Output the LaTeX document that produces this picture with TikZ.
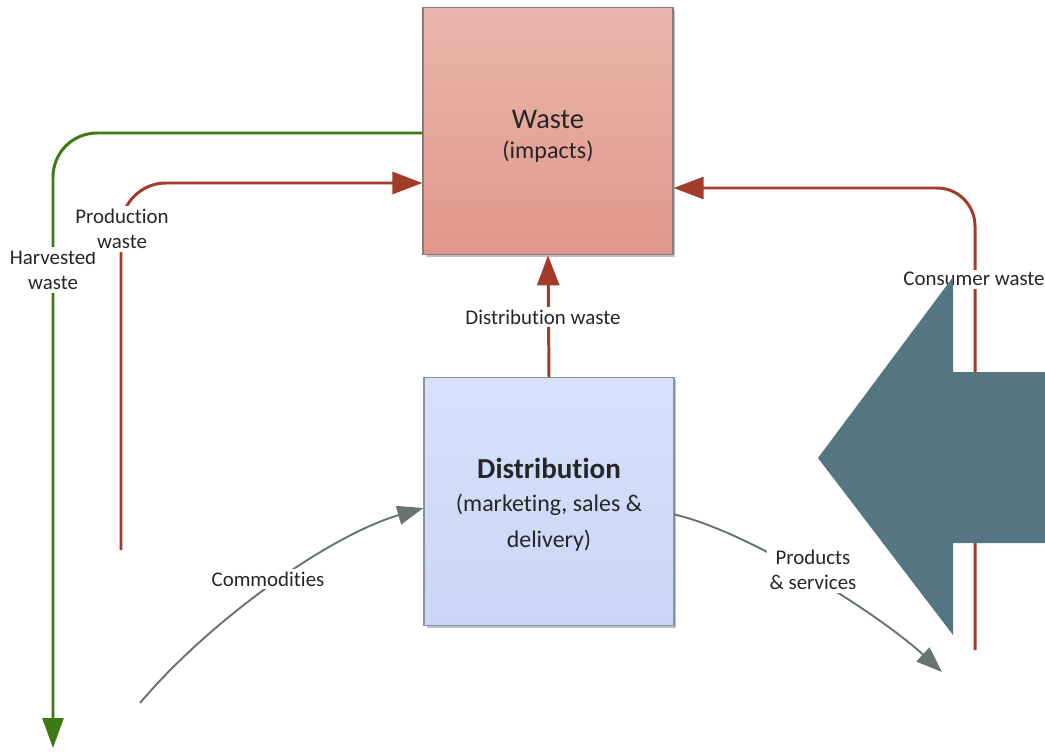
\documentclass[tikz,border=0pt]{standalone}
\usepackage{fontspec}
\setmainfont{Carlito}[Ligatures=CommonOff]
\usetikzlibrary{arrows.meta,calc,shadows}

\definecolor{wastetop}{HTML}{EBB6AC}
\definecolor{wastebot}{HTML}{E0978B}
\definecolor{wasteline}{HTML}{8E7A74}
\definecolor{disttop}{HTML}{D7E1FB}
\definecolor{distbot}{HTML}{C9D6F5}
\definecolor{distline}{HTML}{8893A0}
\definecolor{wred}{HTML}{A33B2B}
\definecolor{hgreen}{HTML}{3D7A16}
\definecolor{flowgray}{HTML}{67746F}
\definecolor{bigarrow}{HTML}{557580}
\definecolor{bigedge}{HTML}{5B7B85}
\definecolor{txt}{HTML}{262626}

\tikzset{
  box/.style={rectangle, minimum width=5cm, minimum height=4.95cm, line width=0.7pt,
    align=center, text=txt, inner sep=0pt,
    drop shadow={shadow xshift=0.05cm, shadow yshift=-0.05cm, fill=black!45, opacity=.55}},
  lbl/.style={fill=white, inner sep=1.5pt, text=txt, align=center,
    font=\fontsize{11.9}{14.5}\selectfont},
  redflow/.style={draw=wred, line width=1.7pt,
    -{Triangle[length=0.6cm, width=0.44cm]}},
  greenflow/.style={draw=hgreen, line width=1.7pt,
    -{Triangle[length=0.6cm, width=0.42cm]}},
  grayflow/.style={draw=flowgray, line width=1.1pt,
    -{Triangle[length=0.52cm, width=0.38cm]}}
}

\begin{document}
\begin{tikzpicture}[x=0.02cm, y=-0.02cm]
\useasboundingbox (0,0) rectangle (1045,751);

% main boxes
\node[box, top color=wastetop, bottom color=wastebot, draw=wasteline,
      font=\fontsize{13.7}{16}\selectfont] (waste) at (548,131)
  {\rule{0pt}{16pt}{\fontsize{16.2}{19}\selectfont Waste}\\[1pt](impacts)};
\node[box, top color=disttop, bottom color=distbot, draw=distline,
      font=\fontsize{13.6}{16}\selectfont] (dist) at (549,501.5)
  {\rule{0pt}{15pt}{\fontsize{16.5}{19}\selectfont\bfseries Distribution}\\[3pt]
   (marketing, sales \&\\[4pt]delivery)};

% free ends of the flows
\coordinate (hend) at (53,748);
\coordinate (pstart) at (121,550);
\coordinate (cstart) at (975,650);
\coordinate (comstart) at (140,703);
\coordinate (prodend) at (942,672);

% harvested waste
\draw[greenflow, rounded corners=0.88cm] ($(waste.west)+(0,2)$) -| (hend);
% production waste
\draw[redflow, rounded corners=0.9cm] (pstart) |- ($(waste.west)+(0,52)$);
% consumer waste
\draw[redflow, rounded corners=0.76cm] (cstart) |- ($(waste.east)+(0,57)$);
% distribution waste
\draw[redflow] (dist.north) -- (waste.south);
% commodities in, products out
\draw[grayflow] (comstart) .. controls (210,620) and (330,535) .. ($(dist.west)+(0,6.5)$);
\draw[grayflow] ($(dist.east)+(0,13)$) .. controls (750,532) and (880,615) .. (prodend);

% flow labels
\node[lbl] (harvlbl) at (53,270) {Harvested\\waste};
\node[lbl] (prodlbl) at (122,229) {Production\\waste};
\node[lbl] (distlbl) at (543,317) {Distribution waste};
\node[lbl] (conslbl) at (974,279) {Consumer waste};
\node[lbl] (comlbl) at (268,579) {Commodities};
\node[lbl] (prodsvc) at (813,570) {Products\\\& services};

% large arrow pointing left
\fill[bigarrow] (818,458) -- (953,277) -- (953,372) -- (1045,372) -- (1045,543)
  -- (953,543) -- (953,635) -- cycle;
\draw[bigedge, line width=0.6pt] (1045,379) -- (946,379) -- (946,301) -- (829,458)
  -- (946,612) -- (946,536) -- (1045,536);
\end{tikzpicture}
\end{document}
